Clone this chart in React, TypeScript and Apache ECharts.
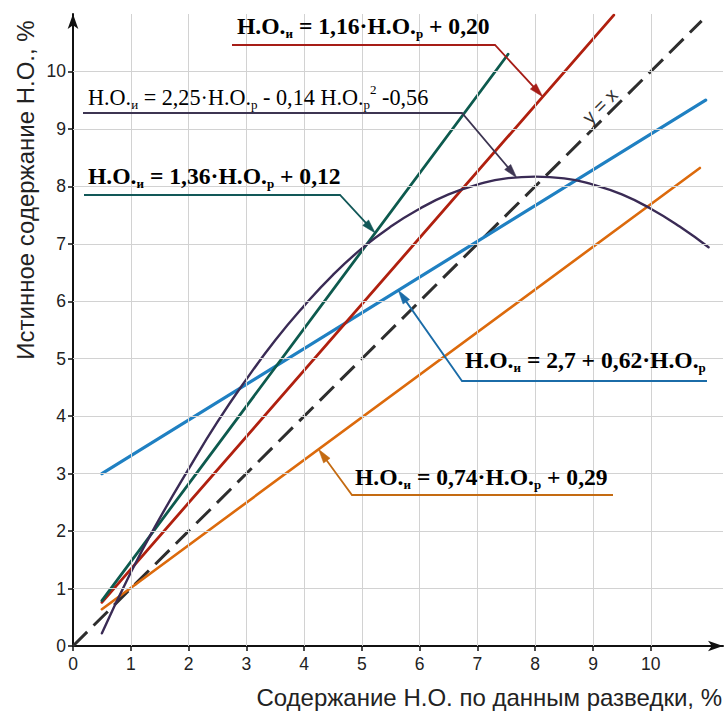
import React, { useEffect, useRef } from "react";
import * as echarts from "echarts";

// ---------- data ----------
const xTicks = [0, 1, 2, 3, 4, 5, 6, 7, 8, 9, 10];
const yTicks = [0, 1, 2, 3, 4, 5, 6, 7, 8, 9, 10];
const gridXs = [1, 2, 3, 4, 5, 6, 7, 8, 9, 10];
const gridYs = [1, 2, 3, 4, 5, 6, 7, 8, 9, 10];

const greenX = [0.5, 7.53];
const greenY = [0.79, 10.3];
const redX = [0.5, 9.36];
const redY = [0.76, 10.98];
const blueX = [0.5, 10.95];
const blueY = [3.0, 9.5];
const orangeX = [0.5, 10.85];
const orangeY = [0.64, 8.32];
const diagX = [0, 10.88];
const diagY = [0, 10.88];
const curveX = [0.5, 1, 1.5, 2, 2.5, 3, 3.5, 4, 4.5, 5, 5.5, 6, 6.5, 7, 7.5, 8, 8.5, 9, 9.5, 10, 10.5, 11];
const curveY = [0.22, 1.28, 2.22, 3.08, 3.9, 4.64, 5.32, 5.92, 6.46, 6.92, 7.3, 7.61, 7.86, 8.03, 8.14, 8.17, 8.14, 8.03, 7.86, 7.61, 7.3, 6.94];

const COLORS = {
  green: "#0d5a4e",
  red: "#b0200f",
  purple: "#3a2b55",
  blue: "#1f80c2",
  orange: "#dc6a0c",
  diag: "#2e2e2e",
};

const TEXT_COLORS = {
  green: "#125858",
  red: "#a61d17",
  purple: "#3d3552",
  blue: "#1b6ca8",
  orange: "#c46b12",
};

const pts = (xs: number[], ys: number[]) => xs.map((x, i) => [x, ys[i]]);

function interp(xs: number[], ys: number[], x: number) {
  for (let i = 0; i < xs.length - 1; i++) {
    if (x >= xs[i] && x <= xs[i + 1]) {
      const t = (x - xs[i]) / (xs[i + 1] - xs[i]);
      return ys[i] + t * (ys[i + 1] - ys[i]);
    }
  }
  return ys[ys.length - 1];
}

const SERIF = "'Liberation Serif', 'DejaVu Serif', serif";
const SANS = "'Liberation Sans', Arial, sans-serif";

function richFor(color: string, bold: boolean) {
  const fw = bold ? "bold" : "normal";
  const fs = bold ? 23.6 : 22.2;
  return {
    m: { fontFamily: SERIF, fontWeight: fw, fontSize: fs, color, lineHeight: 28 },
    s: { fontFamily: SERIF, fontWeight: fw, fontSize: 13, color, lineHeight: 13, verticalAlign: "bottom" },
    p: { fontFamily: SERIF, fontWeight: fw, fontSize: 13, color, lineHeight: 13, verticalAlign: "top" },
  };
}

const annotations = [
  {
    key: "red",
    text: "{m|Н.О.}{s|и}{m| = 1,16·Н.О.}{s|р}{m| + 0,20}",
    bold: true,
    tx: 237, ty: 26,
    line: [[232, 45], [495, 45]],
    xs: redX, ys: redY, ax: 8.13,
  },
  {
    key: "purple",
    text: "{m|Н.О.}{s|и}{m| = 2,25·Н.О.}{s|р}{m| - 0,14 Н.О.}{s|р}{p|2}{m| -0,56}",
    bold: false,
    tx: 88, ty: 97,
    line: [[83, 113], [462, 113]],
    xs: curveX, ys: curveY, ax: 7.68,
  },
  {
    key: "green",
    text: "{m|Н.О.}{s|и}{m| = 1,36·Н.О.}{s|р}{m| + 0,12}",
    bold: true,
    tx: 88, ty: 176,
    line: [[84, 195], [340, 195]],
    xs: greenX, ys: greenY, ax: 5.23,
  },
  {
    key: "blue",
    text: "{m|Н.О.}{s|и}{m| = 2,7 + 0,62·Н.О.}{s|р}",
    bold: true,
    tx: 465, ty: 360,
    line: [[707, 381], [462, 381]],
    xs: blueX, ys: blueY, ax: 5.63,
  },
  {
    key: "orange",
    text: "{m|Н.О.}{s|и}{m| = 0,74·Н.О.}{s|р}{m| + 0,29}",
    bold: true,
    tx: 355, ty: 477,
    line: [[613, 495], [352, 495]],
    xs: orangeX, ys: orangeY, ax: 4.25,
  },
];

export default function App() {
  const ref = useRef<HTMLDivElement>(null);

  useEffect(() => {
    if (!ref.current) return;
    const chart = echarts.init(ref.current, undefined, { renderer: "svg" });

    const lineSeries = (name: string, data: number[][], color: string, width: number, extra: any = {}) => ({
      name,
      type: "line",
      data,
      showSymbol: false,
      symbol: "none",
      silent: true,
      z: 3,
      lineStyle: { color, width, cap: "round" },
      ...extra,
    });

    chart.setOption({
      animation: false,
      backgroundColor: "#ffffff",
      grid: { left: 73, right: 4, top: 14, bottom: 67, containLabel: false },
      xAxis: {
        type: "value",
        min: 0,
        max: 11.25,
        interval: 1,
        axisLine: {
          show: true,
          onZero: false,
          symbol: ["none", "arrow"],
          symbolSize: [8, 15],
          lineStyle: { color: "#111", width: 2 },
        },
        axisTick: { show: true, length: 5, customValues: xTicks, lineStyle: { color: "#111", width: 1.5 } },
        axisLabel: { customValues: xTicks, fontSize: 17.5, color: "#222", fontFamily: SANS, margin: 9 },
        splitLine: { show: false },
      },
      yAxis: {
        type: "value",
        min: 0,
        max: 11,
        interval: 1,
        axisLine: {
          show: true,
          onZero: false,
          symbol: ["none", "arrow"],
          symbolSize: [8, 15],
          lineStyle: { color: "#111", width: 2 },
        },
        axisTick: { show: true, length: 5, customValues: yTicks, lineStyle: { color: "#111", width: 1.5 } },
        axisLabel: { customValues: yTicks, fontSize: 17.5, color: "#222", fontFamily: SANS, margin: 7 },
        splitLine: { show: false },
      },
      series: [
        {
          type: "line",
          data: [[0, 0]],
          showSymbol: false,
          symbol: "none",
          lineStyle: { opacity: 0 },
          silent: true,
          z: 1,
          markLine: {
            silent: true,
            symbol: ["none", "none"],
            label: { show: false },
            lineStyle: { color: "#d2d2d2", width: 1, type: "solid" },
            data: [...gridXs.map((v) => ({ xAxis: v })), ...gridYs.map((v) => ({ yAxis: v }))],
          },
        },
        lineSeries("y=x", pts(diagX, diagY), COLORS.diag, 3, {
          lineStyle: { color: COLORS.diag, width: 3, type: [20, 9], cap: "butt" },
        }),
        lineSeries("orange", pts(orangeX, orangeY), COLORS.orange, 2.6),
        lineSeries("blue", pts(blueX, blueY), COLORS.blue, 3.2),
        lineSeries("red", pts(redX, redY), COLORS.red, 2.8),
        lineSeries("green", pts(greenX, greenY), COLORS.green, 2.8),
        lineSeries("purple", pts(curveX, curveY), COLORS.purple, 2.4, { smooth: true }),
      ],
    });

    const graphics: any[] = [];
    annotations.forEach((a) => {
      const color = (TEXT_COLORS as any)[a.key];
      const ay = interp(a.xs, a.ys, a.ax);
      const tip = chart.convertToPixel({ gridIndex: 0 }, [a.ax, ay]) as number[];
      const last = a.line[a.line.length - 1];
      const dx = tip[0] - last[0];
      const dy = tip[1] - last[1];
      const len = Math.sqrt(dx * dx + dy * dy);
      const ux = dx / len;
      const uy = dy / len;
      const L = 14;
      const W = 4;
      const bx = tip[0] - ux * L;
      const by = tip[1] - uy * L;
      graphics.push({
        type: "polyline",
        z: 10,
        silent: true,
        shape: { points: [...a.line, [bx + ux * 2, by + uy * 2]] },
        style: { stroke: color, lineWidth: 1.8, fill: null },
      });
      graphics.push({
        type: "polygon",
        z: 10,
        silent: true,
        shape: {
          points: [
            [tip[0], tip[1]],
            [bx - uy * W, by + ux * W],
            [bx + uy * W, by - ux * W],
          ],
        },
        style: { fill: color, stroke: color, lineWidth: 0.5 },
      });
      graphics.push({
        type: "text",
        z: 11,
        silent: true,
        x: a.tx,
        y: a.ty,
        style: {
          text: a.text,
          rich: richFor(color, a.bold),
          align: "left",
          verticalAlign: "middle",
        },
      });
    });

    graphics.push({
      type: "text",
      z: 11,
      silent: true,
      x: 600,
      y: 106,
      rotation: Math.PI / 4,
      style: {
        text: "y = x",
        fontFamily: SANS,
        fontSize: 19,
        fill: "#333",
        align: "center",
        verticalAlign: "middle",
      },
    });
    graphics.push({
      type: "text",
      z: 11,
      silent: true,
      x: 722,
      y: 697,
      style: {
        text: "Содержание Н.О. по данным разведки, %",
        fontFamily: SANS,
        fontSize: 24,
        fill: "#222",
        align: "right",
        verticalAlign: "middle",
      },
    });
    graphics.push({
      type: "text",
      z: 11,
      silent: true,
      x: 25,
      y: 190,
      rotation: Math.PI / 2,
      style: {
        text: "Истинное содержание Н.О., %",
        fontFamily: SANS,
        fontSize: 24,
        fill: "#222",
        align: "center",
        verticalAlign: "middle",
      },
    });

    chart.setOption({ graphic: graphics });

    return () => chart.dispose();
  }, []);

  return (
    <div
      ref={ref}
      style={{ position: "fixed", left: 0, top: 0, width: 727, height: 713, background: "#fff" }}
    />
  );
}
